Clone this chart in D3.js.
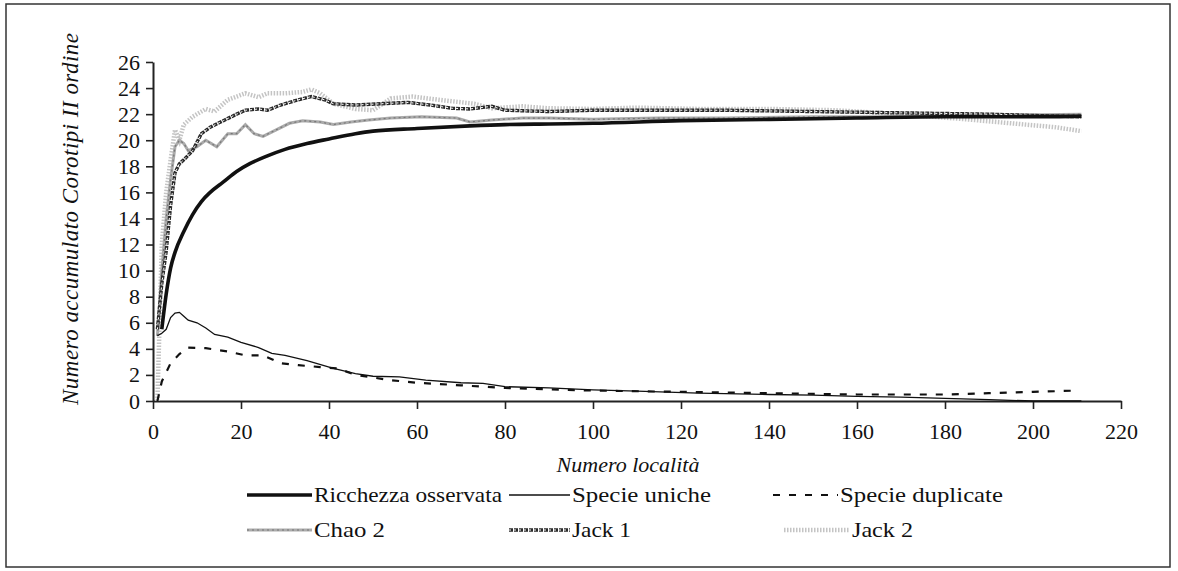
<!DOCTYPE html>
<html>
<head>
<meta charset="utf-8">
<script src="https://cdn.jsdelivr.net/npm/d3@7"></script>
<style>
  html, body { margin: 0; padding: 0; background: #fff; }
  svg { display: block; }
</style>
</head>
<body>
<svg id="chart" width="1178" height="571"></svg>
<script>
// ---- data ----
const xTicks = [0, 20, 40, 60, 80, 100, 120, 140, 160, 180, 200, 220];
const yTicks = [0, 2, 4, 6, 8, 10, 12, 14, 16, 18, 20, 22, 24, 26];

const ricchezza = [[2,5.5],[3,8.2],[4,10.2],[5,11.4],[7,13.0],[9,14.3],[11,15.3],[13,16.0],[16,16.8],[19,17.6],[22,18.2],[26,18.8],[30,19.3],[35,19.75],[40,20.1],[46,20.5],[50,20.7],[60,20.9],[72,21.1],[80,21.2],[90,21.25],[100,21.3],[120,21.5],[140,21.6],[160,21.7],[180,21.8],[200,21.8],[211,21.85]];

const uniche = [[1,5],[2,5.2],[3,5.5],[4,6.4],[5,6.75],[6,6.8],[7,6.5],[8,6.2],[10,6.0],[12,5.6],[14,5.1],[17,4.9],[20,4.5],[24,4.1],[27,3.65],[30,3.5],[35,3.1],[41,2.5],[46,2.1],[50,1.9],[56,1.85],[62,1.6],[70,1.4],[75,1.35],[80,1.1],[90,1.0],[100,0.85],[110,0.75],[124,0.6],[140,0.5],[150,0.45],[160,0.35],[170,0.3],[180,0.2],[190,0.1],[200,0.0],[211,0.0]];

const duplicate = [[1,0],[2,1.5],[4,2.9],[6,3.6],[8,4.1],[12,4.05],[17,3.8],[21,3.5],[25,3.5],[29,2.9],[33,2.75],[38,2.6],[42,2.5],[46,2.0],[54,1.6],[60,1.4],[70,1.2],[80,1.0],[90,0.9],[100,0.8],[120,0.7],[140,0.6],[160,0.5],[180,0.5],[190,0.6],[200,0.7],[210,0.8]];

const chao2 = [[1,5],[2,10],[3,14],[4,17],[5,19.5],[6,20.0],[7,19.75],[8,19.2],[10,19.5],[12,20.0],[14.5,19.5],[17,20.5],[19,20.5],[21,21.2],[23,20.5],[25,20.3],[28,20.8],[31,21.3],[34,21.5],[38,21.4],[41,21.2],[45,21.4],[49,21.55],[54,21.7],[61,21.8],[69,21.7],[72,21.4],[77,21.55],[84,21.7],[90,21.7],[100,21.6],[115,21.7],[130,21.7],[150,21.8],[170,21.8],[190,21.9],[211,22.0]];

const jack1 = [[1,5.5],[2,9],[3,11.5],[4,15],[5,17.5],[6,18.2],[7,18.5],[9,19.2],[11,20.5],[13,21.0],[16,21.5],[19,22.0],[21,22.3],[24,22.4],[26,22.3],[29,22.7],[33,23.1],[36,23.35],[39,23.1],[41,22.8],[46,22.7],[52,22.8],[58,22.9],[63,22.7],[68,22.45],[72,22.4],[77,22.6],[80,22.3],[90,22.2],[100,22.3],[115,22.3],[130,22.3],[150,22.2],[170,22.1],[190,22.0],[200,21.9],[211,21.8]];

const jack2 = [[1,0],[2,12],[3,16],[4,18.5],[5,20.8],[6,20],[7,21.2],[9,21.8],[12,22.4],[14,22.2],[17,23.1],[21,23.6],[24,23.3],[26,23.6],[30,23.6],[34,23.7],[36,23.9],[38,23.6],[41,22.8],[46,22.4],[50,22.3],[54,23.2],[59,23.35],[65,23.1],[73,22.8],[77,22.45],[84,22.6],[90,22.45],[100,22.4],[110,22.5],[124,22.4],[140,22.4],[155,22.3],[170,22.0],[185,21.6],[195,21.3],[205,21.0],[211,20.7]];

const legendLabels = ["Ricchezza osservata", "Specie uniche", "Specie duplicate", "Chao 2", "Jack 1", "Jack 2"];

// ---- drawing ----
const FONT = "Liberation Serif";
const svg = d3.select("#chart");

// outer frame
svg.append("rect").attr("x", 6).attr("y", 4).attr("width", 1164).attr("height", 563)
  .attr("fill", "none").attr("stroke", "#333").attr("stroke-width", 1.5);

const x = d3.scaleLinear().domain([0, 220]).range([153, 1121]);
const y = d3.scaleLinear().domain([0, 26]).range([401, 62]);

const xAxis = svg.append("g").attr("transform", `translate(0,${y(0)})`)
  .call(d3.axisBottom(x).tickValues(xTicks).tickSize(8).tickPadding(14).tickSizeOuter(0));
const yAxis = svg.append("g").attr("transform", `translate(${x(0)},0)`)
  .call(d3.axisLeft(y).tickValues(yTicks).tickSize(7).tickPadding(6).tickSizeOuter(0));

[xAxis, yAxis].forEach(g => {
  g.attr("font-family", FONT).attr("font-size", 22);
  g.select(".domain").attr("stroke", "#222").attr("stroke-width", 2);
  g.selectAll(".tick line").attr("stroke", "#222").attr("stroke-width", 1.6);
  g.selectAll(".tick text").attr("fill", "#111");
});

// axis titles
svg.append("text").attr("x", 628).attr("y", 472).attr("text-anchor", "middle")
  .attr("font-family", FONT).attr("font-style", "italic").attr("font-size", 22)
  .attr("fill", "#111").text("Numero località");
svg.append("text").attr("transform", "translate(78,219) rotate(-90)").attr("text-anchor", "middle")
  .attr("font-family", FONT).attr("font-style", "italic").attr("font-size", 23)
  .attr("textLength", 372).attr("lengthAdjust", "spacing")
  .attr("fill", "#111").text("Numero accumulato Corotipi II ordine");

const line = d3.line().x(d => x(d[0])).y(d => y(d[1])).curve(d3.curveLinear);
const smooth = d3.line().x(d => x(d[0])).y(d => y(d[1])).curve(d3.curveMonotoneX);

const plot = svg.append("g");

// Jack 2 : light dotted, wide
function drawJack2(g, path) {
  g.append("path").attr("d", path).attr("fill", "none").attr("stroke", "#c4c4c4")
    .attr("stroke-width", 4.5).attr("stroke-dasharray", "1.5,1.5");
}
// Chao 2 : grey textured
function drawChao2(g, path) {
  g.append("path").attr("d", path).attr("fill", "none").attr("stroke", "#ababab").attr("stroke-width", 3);
  g.append("path").attr("d", path).attr("fill", "none").attr("stroke", "#777")
    .attr("stroke-width", 1.2).attr("stroke-dasharray", "2,3");
}
// Jack 1 : dark chain of small circles
function drawJack1(g, path) {
  g.append("path").attr("d", path).attr("fill", "none").attr("stroke", "#2a2a2a")
    .attr("stroke-width", 3.4).attr("stroke-dasharray", "4,1");
  g.append("path").attr("d", path).attr("fill", "none").attr("stroke", "#fff")
    .attr("stroke-width", 1).attr("stroke-dasharray", "2,3");
}
function drawRicchezza(g, path) {
  g.append("path").attr("d", path).attr("fill", "none").attr("stroke", "#111").attr("stroke-width", 3.6);
}
function drawUniche(g, path) {
  g.append("path").attr("d", path).attr("fill", "none").attr("stroke", "#111").attr("stroke-width", 1.3);
}
function drawDuplicate(g, path) {
  g.append("path").attr("d", path).attr("fill", "none").attr("stroke", "#111")
    .attr("stroke-width", 2.2).attr("stroke-dasharray", "7,9");
}

drawJack2(plot, line(jack2));
drawChao2(plot, line(chao2));
drawJack1(plot, line(jack1));
drawRicchezza(plot, smooth(ricchezza));
drawUniche(plot, line(uniche));
drawDuplicate(plot, line(duplicate));

// legend
const legendItems = [
  {label: legendLabels[0], draw: drawRicchezza, x0: 247, x1: 312, row: 0, w: 188},
  {label: legendLabels[1], draw: drawUniche, x0: 509, x1: 570, row: 0, w: 139},
  {label: legendLabels[2], draw: drawDuplicate, x0: 773, x1: 838, row: 0, w: 163},
  {label: legendLabels[3], draw: drawChao2, x0: 247, x1: 312, row: 1, w: 71},
  {label: legendLabels[4], draw: drawJack1, x0: 509, x1: 570, row: 1, w: 59},
  {label: legendLabels[5], draw: drawJack2, x0: 784, x1: 850, row: 1, w: 61}
];
const rowY = [495, 530];
const leg = svg.append("g");
legendItems.forEach(it => {
  const yy = rowY[it.row];
  it.draw(leg, `M${it.x0},${yy}L${it.x1},${yy}`);
  leg.append("text").attr("x", it.x1 + 2).attr("y", yy + 7)
    .attr("font-family", FONT).attr("font-size", 22).attr("fill", "#111")
    .attr("textLength", it.w).attr("lengthAdjust", "spacingAndGlyphs").text(it.label);
});
</script>
</body>
</html>
